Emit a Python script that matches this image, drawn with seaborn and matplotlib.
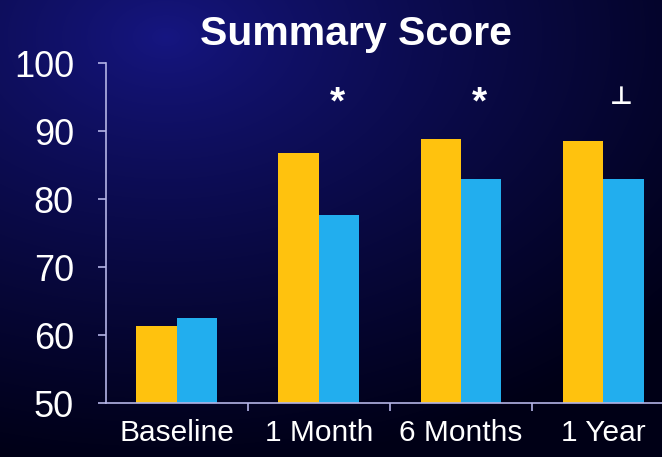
import numpy as np
import pandas as pd
import matplotlib
matplotlib.use("Agg")
import matplotlib.pyplot as plt
import seaborn as sns

# Summary score by time point for the two groups
timepoints = ["Baseline", "1 Month", "6 Months", "1 Year"]
group_a = [61.4, 86.8, 88.8, 88.5]   # orange bars
group_b = [62.5, 77.6, 83.0, 83.0]   # blue bars
markers = ["", "*", "*", "\u22a5"]
marker_level = [94.0, 94.0, 94.0, 95.0]
yticks = [50, 60, 70, 80, 90, 100]

df = pd.DataFrame({
    "Time": timepoints * 2,
    "Score": group_a + group_b,
    "Group": ["A"] * len(timepoints) + ["B"] * len(timepoints),
})

sns.set_style("white")
plt.rcParams["font.family"] = ["Liberation Sans", "DejaVu Sans"]

fig = plt.figure(figsize=(6.62, 4.57), dpi=100)

# Navy backdrop: brighter blue near the upper left, fading to near black
bg = fig.add_axes([0, 0, 1, 1], zorder=-10)
h, w = 457, 662
yy, xx = np.mgrid[0:h, 0:w]
d = np.sqrt(((xx - 0.25 * w) / (1.0 * w)) ** 2 + ((yy - 0.08 * h) / (0.95 * h)) ** 2)
t = np.clip(d, 0, 1) ** 0.8
c0 = np.array([22, 22, 130]) / 255.0
c1 = np.array([0, 0, 22]) / 255.0
img = c0[None, None, :] * (1 - t[..., None]) + c1[None, None, :] * t[..., None]
bg.imshow(img, aspect="auto", extent=[0, 1, 0, 1])
bg.axis("off")

ax = fig.add_axes([0.160, 0.118, 0.840, 0.744])
ax.set_facecolor("none")
sns.barplot(data=df, x="Time", y="Score", hue="Group", order=timepoints,
            palette=["#FFC20E", "#22AEEE"], width=0.57, gap=0,
            saturation=1, legend=False, ax=ax, linewidth=0)

ax.set_ylim(50, 100)
ax.set_xlim(-0.5, 3.415)
ax.set_yticks(yticks)
ax.set_xlabel("")
ax.set_ylabel("")

axis_col = "#B4B4E6"
for side in ["top", "right"]:
    ax.spines[side].set_visible(False)
for side in ["left", "bottom"]:
    ax.spines[side].set_color(axis_col)
    ax.spines[side].set_linewidth(1.2)

ax.tick_params(axis="y", colors=axis_col, labelcolor="white", labelsize=26,
               length=6, width=1.2, direction="out", pad=17, left=True)
ax.tick_params(axis="x", bottom=False, labelcolor="white", labelsize=21.5, pad=8)

# Minor ticks sit between the categories on the bottom axis
ax.set_xticks([0.5, 1.5, 2.5], minor=True)
ax.tick_params(axis="x", which="minor", bottom=True, colors=axis_col,
               length=6, width=1.2, direction="out")

for i, m in enumerate(markers):
    if m:
        ax.text(i + 0.13, marker_level[i], m, ha="center", va="center",
                color="white", fontsize=28 if m == "*" else 18,
                fontweight="bold")

fig.text(0.537, 0.9015, "Summary Score", ha="center", va="baseline",
         color="white", fontsize=29.5, fontweight="bold")

fig.savefig("out.png", dpi=100)
